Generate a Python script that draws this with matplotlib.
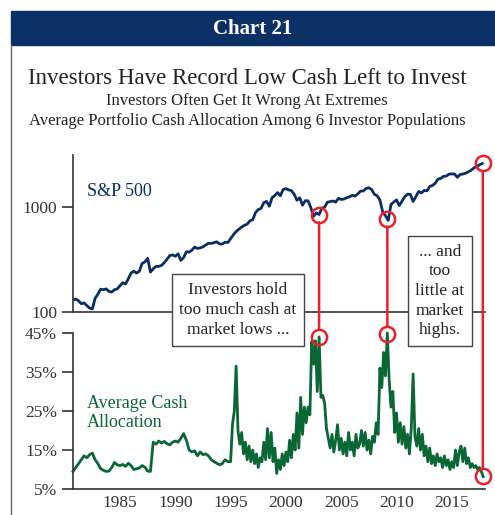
import matplotlib.pyplot as plt
import numpy as np
from matplotlib.patches import Rectangle, ConnectionPatch
from matplotlib.lines import Line2D

# S&P 500, quarterly, 1980.75 .. 2017.75
sp500 = [130, 133, 128, 120, 122, 115, 109, 107, 135, 148, 165, 163, 166,
         157, 155, 163, 166, 178, 190, 185, 207, 235, 245, 235, 245,
         290, 300, 325, 240, 258, 272, 272, 278, 295, 318, 345, 350,
         340, 358, 310, 330, 375, 372, 388, 415, 403, 408, 418, 435,
         451, 450, 458, 466, 445, 444, 462, 459, 500, 545, 584, 615,
         645, 670, 687, 740, 757, 885, 947, 970, 1100, 1133, 1017, 1229,
         1286, 1372, 1282, 1469, 1498, 1454, 1436, 1320, 1160, 1224, 1040, 1148,
         1147, 990, 815, 880, 848, 975, 996, 1112, 1126, 1141, 1114, 1212,
         1180, 1191, 1228, 1248, 1295, 1270, 1335, 1418, 1420, 1503, 1527, 1468,
         1322, 1280, 1166, 900, 825, 745, 1057, 1115, 1169, 1031, 1141, 1258,
         1326, 1320, 1131, 1258, 1408, 1362, 1440, 1426, 1569, 1606, 1682, 1848,
         1872, 1960, 1972, 2059, 2068, 2063, 1920, 2044, 2060, 2099, 2168, 2239,
         2363, 2423, 2519, 2600]
sp_years = np.linspace(1980.75, 2017.75, len(sp500))

# average cash allocation (%), quarterly 1980.75 .. 1994.75
cash_early = [9.5, 10.5, 11.5, 12.5, 13.5, 13.0, 13.8, 14.2, 12.5, 11.5, 10.2, 9.8,
              9.5, 9.6, 10.5, 11.8, 11.2, 11.0, 11.3, 10.8, 11.6, 11.0, 10.0, 10.2,
              10.4, 11.0, 10.6, 9.6, 9.5, 17.0, 16.5, 17.3, 16.8, 17.2, 16.6, 16.3,
              17.0, 17.3, 17.0, 18.0, 19.2, 17.5, 15.0, 14.5, 14.8, 13.5, 14.5, 13.8,
              14.0, 13.5, 12.5, 12.0, 11.6, 11.2, 11.5, 12.5, 12.0]
# bi-monthly 1995.0 .. 2017.83
cash_late = [12.0, 21.5, 25.0, 36.5, 20.0, 16.5,
             19.5, 14.0, 17.0, 12.5, 16.0, 12.0,
             15.0, 11.5, 14.0, 10.5, 13.0, 12.0,
             17.0, 12.5, 20.5, 13.0, 19.5, 12.0,
             15.5, 9.0, 12.5, 10.0, 14.0, 11.0,
             14.5, 12.0, 17.5, 13.0, 19.0, 15.0,
             24.5, 15.5, 28.5, 19.0, 26.0, 22.0,
             26.0, 24.0, 42.8, 37.0, 43.0, 30.0,
             44.0, 28.5, 29.0, 27.0, 20.5, 18.0,
             15.5, 19.0, 14.5, 17.5, 21.5, 15.0,
             18.0, 14.0, 17.0, 13.5, 19.5, 15.0,
             17.0, 13.5, 19.0, 15.5, 16.5, 20.0,
             16.0, 19.5, 15.0, 17.5, 14.0, 18.5,
             17.0, 22.0, 19.0, 36.0, 31.0, 40.0,
             34.0, 45.0, 33.0, 26.0, 30.0, 19.5,
             24.5, 17.0, 22.0, 16.5, 21.0, 15.5,
             19.0, 14.0, 20.5, 34.5, 18.5, 16.0,
             20.5, 15.0, 19.0, 13.5, 16.0, 12.0,
             15.5, 11.5, 13.5, 11.0, 14.0, 12.0,
             13.0, 10.5, 13.5, 11.0, 12.5, 10.0,
             12.0, 10.5, 15.0, 11.0, 14.5, 16.0,
             12.0, 15.5, 11.5, 13.0, 10.5, 11.5,
             10.5, 11.0, 10.0, 10.5, 9.5, 8.2]
cash = cash_early + cash_late
cash_years = np.concatenate([np.linspace(1980.75, 1994.75, len(cash_early)),
                             np.linspace(1995.0, 2017.833, len(cash_late))])

event_years = [2003.0, 2009.17, 2017.8]
year_ticks = [1985, 1990, 1995, 2000, 2005, 2010, 2015]
cash_ticks = [5, 15, 25, 35, 45]

navy = "#0b2d62"
green = "#0a6634"
red = "#e8202a"
serif = "Liberation Serif"

W, H = 495, 515
fig = plt.figure(figsize=(W / 100, H / 100), dpi=100)

def fx(x):
    return x / W

def fy(y):
    return 1 - y / H

# header bar and frame
fig.patches.append(Rectangle((fx(11), fy(45)), fx(484), 34 / H, transform=fig.transFigure,
                             color="#0a3066", zorder=0))
fig.lines.append(Line2D([fx(11), fx(11)], [fy(45), 0], transform=fig.transFigure,
                        color="#666666", lw=1))
fig.text(fx(253), fy(29), "Chart 21", color="white", fontsize=15, fontweight="bold",
         family=serif, ha="center", va="center")
fig.text(fx(247), fy(78), "Investors Have Record Low Cash Left to Invest", fontsize=16.5,
         family=serif, ha="center", va="center", color="#222222")
fig.text(fx(247), fy(101), "Investors Often Get It Wrong At Extremes", fontsize=12,
         family=serif, ha="center", va="center", color="#222222")
fig.text(fx(247), fy(121), "Average Portfolio Cash Allocation Among 6 Investor Populations",
         fontsize=12, family=serif, ha="center", va="center", color="#222222")

left, right = fx(73), fx(485)
ax1 = fig.add_axes([left, fy(312), right - left, (312 - 155) / H])
ax2 = fig.add_axes([left, fy(489), right - left, (489 - 333) / H])
xlim = (1980.75, 2018.0)

ax1.plot(sp_years, sp500, color=navy, lw=2)
ax1.set_yscale("log")
ax1.set_ylim(100, 3130)
ax1.set_xlim(*xlim)
ax1.set_yticks([100, 1000])
ax1.set_yticklabels(["100", "1000"])
ax1.minorticks_off()
ax1.set_xticks([])
ax1.text(1982.0, 1400, "S&P 500", color=navy, fontsize=13, family=serif, va="center")

ax2.plot(cash_years, cash, color=green, lw=2, clip_on=False)
ax2.set_ylim(5, 45)
ax2.set_xlim(*xlim)
ax2.set_yticks(cash_ticks)
ax2.set_yticklabels([f"{t}%" for t in cash_ticks])
ax2.set_xticks(year_ticks)
ax2.text(1982.0, 24.5, "Average Cash\nAllocation", color=green, fontsize=13, family=serif,
         va="center", linespacing=1.1)

for ax in (ax1, ax2):
    ax.set_facecolor("none")
    ax.spines["top"].set_visible(False)
    ax.spines["right"].set_visible(False)
    ax.spines["left"].set_color("#333333")
    ax.spines["bottom"].set_color("#333333")
    ax.spines["left"].set_linewidth(1.2)
    ax.spines["bottom"].set_linewidth(1.2)
    ax.tick_params(axis="y", length=8, width=1.2, color="#333333", labelsize=12.5,
                   labelcolor="#333333")
    ax.tick_params(axis="x", length=0, labelsize=12.5, labelcolor="#333333", pad=4)
    for lab in ax.get_xticklabels() + ax.get_yticklabels():
        lab.set_family(serif)

# red markers at extremes
for yr in event_years:
    sp_val = np.interp(yr, sp_years, sp500)
    cash_val = np.interp(yr, cash_years, cash)
    ax1.plot(yr, sp_val, "o", ms=11, mfc="none", mec=red, mew=1.8, clip_on=False, zorder=5)
    ax2.plot(yr, cash_val, "o", ms=11, mfc="none", mec=red, mew=1.8, clip_on=False, zorder=5)
    con = ConnectionPatch(xyA=(yr, sp_val), coordsA=ax1.transData,
                          xyB=(yr, cash_val), coordsB=ax2.transData,
                          color=red, lw=1.8, shrinkA=5.5, shrinkB=5.5, zorder=4)
    fig.add_artist(con)

box = dict(boxstyle="square,pad=0.45", fc="white", ec="#444444", lw=1)
fig.text(fx(238), fy(310), "Investors hold\ntoo much cash at\nmarket lows ...", fontsize=12.5,
         family=serif, ha="center", va="center", bbox=box, linespacing=1.35, zorder=6,
         color="#222222")
fig.text(fx(440), fy(291), "... and\ntoo\nlittle at\nmarket\nhighs.", fontsize=12.5,
         family=serif, ha="center", va="center", bbox=box, linespacing=1.3, zorder=6,
         color="#222222")

fig.savefig("out.png", dpi=100)
